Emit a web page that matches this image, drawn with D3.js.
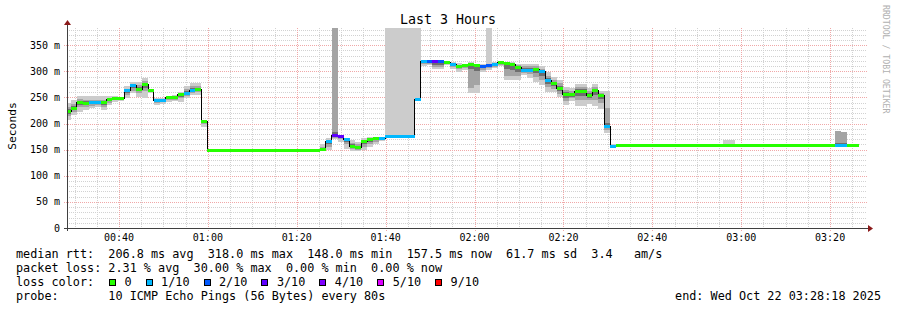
<!DOCTYPE html>
<html>
<head>
<meta charset="utf-8">
<script src="https://cdn.jsdelivr.net/npm/d3@7"></script>
<style>
body{margin:0;background:#fff}
text{font-family:"DejaVu Sans Mono",monospace;fill:#000}
</style>
</head>
<body>
<div id="chart"></div>
<script>
// median rtt per 80s step (ms)
var median = [223,229,241,239,240,240,240,246,248,248,
  263,272,265,275,264,245,245,250,250,255,
  258,264,266,204,
  148,148,148,148,148,148,148,148,148,148,148,148,148,148,148,148,148,148,148,
  150,165,177,175,170,157,154,165,169,171,171,
  175,175,175,175,175,247,
  318,318,318,318,316.5,313,310,311,314,311,
  310,311,314,316.5,315,313,307,302,302,304,
  299,283,276,267,255,255,261,262,254,263,
  254,195,157,
  157.5,157.5,157.5,157.5,157.5,157.5,157.5,157.5,157.5,157.5,
  157.5,157.5,157.5,157.5,157.5,157.5,157.5,157.5,157.5,157.5,
  157.5,157.5,157.5,157.5,157.5,157.5,157.5,157.5,157.5,157.5,
  157.5,157.5,157.5,157.5,157.5,157.5,157.5,157.5,157.5,157.5,157.5]
// lost pings out of 10
var loss = [0,0,0,0,1,1,0,0,0,0, 1,1,0,0,0,1,1,0,0,0, 1,1,0,0,
  0,0,0,0,0,0,0,0,0,0,0,0,0,0,0,0,0,0,0,
  0,1,3,3,1,0,0,0,0,0,1,
  1,1,1,1,1,1,
  1,2,3,2,0,1,0,0,0,0,
  2,2,1,0,0,0,0,1,1,0,
  1,1,0,0,0,0,0,0,0,0,
  0,1,1,
  0,0,0,0,0,0,0,0,0,0, 0,0,0,0,0,0,0,0,0,0,
  0,0,0,0,0,0,0,0,0,0, 0,0,0,0,0,0,0,1,1,0,0]
// smoke: outer min / inner min / inner max / outer max (ms)
var smokeLo = [207,216,222,226,229,231,226,236,242,244,
  248,258,251,248,258,236,238,242,243,242,
  248,255,255,194,
  148,148,148,148,148,148,148,148,148,148,148,148,148,148,148,148,148,148,148,
  147,149,170,165,152,148,148,150,155,160,166,
  173,174,174,174,174,245,
  310,313,304,304,313,304,298,303,259,259,
  298,303,306,310,283,283,283,293,288,280,
  273,260,260,250,235,243,233,233,238,233,
  228,182,156,
  157,157,157,157,157,157,157,157,157,157, 157,157,157,157,157,157,157,157,157,157,
  157,157,157,157,157,157,157,157,157,157, 157,157,157,157,157,157,157,157,157,157,157]
var smokeLo2 = [215,222,232,232,234,235,232,240,245,246,
  254,263,258,262,260,240,241,246,246,248,
  252,259,260,199,
  148,148,148,148,148,148,148,148,148,148,148,148,148,148,148,148,148,148,148,
  148,156,173,170,160,152,150,156,161,165,168,
  174,174,174,174,174,246,
  314,315,308,308,314,308,304,307,268,273,
  303,306,309,313,292,292,292,297,294,290,
  284,270,266,257,244,248,245,245,245,245,
  240,188,156,
  157,157,157,157,157,157,157,157,157,157, 157,157,157,157,157,157,157,157,157,157,
  157,157,157,157,157,157,157,157,157,157, 157,157,157,157,157,157,157,157,157,157,157]
var smokeHi2 = [232,238,247,246,246,246,246,249,250,250,
  267,276,274,281,266,247,247,251,252,258,
  266,272,272,206,
  148,148,148,148,148,148,148,148,148,148,148,148,148,148,148,148,148,148,148,
  155,169,400,177,171,163,160,169,172,172,173,
  177,176,176,176,176,249,
  319,319,319,319,318,315,313,313,315,313,
  312,314,316,318,317,315,312,311,311,310,
  305,292,284,278,264,262,270,270,262,270,
  258,230,159,
  158,158,158,158,158,158,158,158,158,158, 158,158,158,158,158,158,158,158,158,158,
  158,158,158,158,158,158,158,158,158,158, 158,158,158,158,158,158,158,186,183,158,158]
var smokeHi = [239,246,252,252,253,253,252,252,252,251,
  271,280,280,287,267,248,248,253,254,261,
  271,277,277,207,
  148,148,148,148,148,148,148,148,148,148,148,148,148,148,148,148,148,148,148,
  160,172,400,178,172,168,165,172,175,173,175,
  400,400,400,400,400,400,
  320,320,320,320,319,317,316,315,317,315,
  314,400,317,319,318,317,315,314,315,314,
  311,299,289,284,270,268,275,275,268,275,
  262,262,160,
  158,158,158,158,158,158,158,158,158,158, 158,158,158,158,158,158,158,158,168,168,
  158,158,158,158,158,158,158,158,158,158, 158,158,160,160,158,158,158,186,183,158,158]

var lossLabels = ["0","1/10","2/10","3/10","4/10","5/10","9/10"]
var lossSteps = [0,1,2,3,4,5,9]
var lossColors = ["#26ff00","#00b8ff","#0059ff","#5e00ff","#7e00ff","#dd00ff","#ff0000"]
var yTicks = [0,50,100,150,200,250,300,350]
var legendLines = [
  "median rtt:  206.8 ms avg  318.0 ms max  148.0 ms min  157.5 ms now  61.7 ms sd  3.4   am/s",
  "packet loss: 2.31 % avg  30.00 % max  0.00 % min  0.00 % now",
  "loss color:",
  "probe:       10 ICMP Echo Pings (56 Bytes) every 80s"]

var endTime = new Date(2025, 9, 22, 3, 28, 18)
var startTime = new Date(endTime.getTime() - 3*3600*1000)
var firstStep = new Date(2025, 9, 22, 0, 27, 52)
var stepMs = 80*1000

var plot = {left: 67, right: 867, top: 28, bottom: 228}

var x = d3.scaleTime().domain([startTime, endTime]).range([plot.left, plot.right])
var y = d3.scaleLinear().domain([0, 383]).range([plot.bottom, plot.top])

function colorFor(l){
  var idx = 0
  for(var i in lossSteps){ if(l >= lossSteps[i]) idx = i }
  return lossColors[idx]
}

var svg = d3.select("#chart").append("svg")
    .attr("width", 897)
    .attr("height", 310)

svg.append("defs").append("clipPath").attr("id","clip")
  .append("rect").attr("x",plot.left).attr("y",plot.top)
  .attr("width",plot.right-plot.left).attr("height",plot.bottom-plot.top)

// grid
var minorY = d3.range(10, 383, 10).filter(function(v){ return v % 50 != 0 })
var majorY = yTicks.filter(function(v){ return v > 0 })
var minorX = x.ticks(d3.timeMinute.every(5)).filter(function(d){ return d.getMinutes() % 20 != 0 })
var majorX = x.ticks(d3.timeMinute.every(20))

var grid = svg.append("g").attr("shape-rendering","crispEdges")
grid.selectAll(".hmin").data(minorY).enter().append("line")
  .attr("x1",plot.left).attr("x2",plot.right)
  .attr("y1",function(d){ return Math.round(y(d))+0.5 }).attr("y2",function(d){ return Math.round(y(d))+0.5 })
  .style("stroke","#d2d2d2").style("stroke-dasharray","1,1")
grid.selectAll(".vmin").data(minorX).enter().append("line")
  .attr("y1",plot.top).attr("y2",plot.bottom+2)
  .attr("x1",function(d){ return Math.round(x(d))+0.5 }).attr("x2",function(d){ return Math.round(x(d))+0.5 })
  .style("stroke","#d2d2d2").style("stroke-dasharray","1,1")
grid.selectAll(".hmaj").data(majorY).enter().append("line")
  .attr("x1",plot.left-3).attr("x2",plot.right)
  .attr("y1",function(d){ return Math.round(y(d))+0.5 }).attr("y2",function(d){ return Math.round(y(d))+0.5 })
  .style("stroke","#f0a8a8").style("stroke-dasharray","1,1")
grid.selectAll(".vmaj").data(majorX).enter().append("line")
  .attr("y1",plot.top).attr("y2",plot.bottom+3)
  .attr("x1",function(d){ return Math.round(x(d))+0.5 }).attr("x2",function(d){ return Math.round(x(d))+0.5 })
  .style("stroke","#f0a8a8").style("stroke-dasharray","1,1")

// steps
var steps = median.map(function(m, i){
  return {t0: new Date(firstStep.getTime()+i*stepMs), t1: new Date(firstStep.getTime()+(i+1)*stepMs),
    med: m, loss: loss[i], lo: smokeLo[i], lo2: smokeLo2[i], hi2: smokeHi2[i], hi: smokeHi[i]}
})

var g = svg.append("g").attr("clip-path","url(#clip)").attr("shape-rendering","crispEdges")

function smokeLayer(cls, top, bottom, fill){
  g.selectAll("."+cls).data(steps).enter().append("rect")
    .attr("x",function(d){ return x(d.t0) })
    .attr("width",function(d){ return x(d.t1)-x(d.t0) })
    .attr("y",function(d){ return y(top(d)) })
    .attr("height",function(d){ return Math.max(0, y(bottom(d))-y(top(d))) })
    .style("fill",fill)
}
smokeLayer("s1", function(d){ return d.hi }, function(d){ return d.lo }, "#cccccc")
smokeLayer("s2", function(d){ return d.hi2 }, function(d){ return d.lo2 }, "#a4a4a4")
// darkest band close to the median, inside the inner smoke
smokeLayer("s3", function(d){ return d.med + Math.min((d.hi2-d.med)/2, 6) },
  function(d){ return d.med - Math.min((d.med-d.lo2)/2, 10) }, "#6e6e6e")

var pts = steps.map(function(d){ return [x(d.t0), y(d.med)] })
pts.push([x(steps[steps.length-1].t1), y(steps[steps.length-1].med)])
g.append("path")
  .attr("d", d3.line().curve(d3.curveStepAfter)(pts))
  .style("fill","none").style("stroke","#000").style("stroke-width",1)

g.selectAll(".med").data(steps).enter().append("rect")
  .attr("x",function(d){ return x(d.t0) })
  .attr("width",function(d){ return x(d.t1)-x(d.t0) })
  .attr("y",function(d){ return y(d.med)-1.5 })
  .attr("height",3)
  .style("fill",function(d){ return colorFor(d.loss) })

// axes
var ax = svg.append("g").attr("shape-rendering","crispEdges")
ax.append("line").attr("x1",plot.left+0.5).attr("x2",plot.left+0.5).attr("y1",plot.bottom+3).attr("y2",plot.top-6)
  .style("stroke","#404040")
ax.append("line").attr("x1",plot.left-3).attr("x2",plot.right+4).attr("y1",plot.bottom+0.5).attr("y2",plot.bottom+0.5)
  .style("stroke","#404040")
svg.append("path").attr("d","M"+(plot.left-3)+","+(plot.top-3)+"L"+(plot.left+4)+","+(plot.top-3)+"L"+(plot.left+0.5)+","+(plot.top-8)+"Z")
  .style("fill","#8b1a1a")
svg.append("path").attr("d","M"+(plot.right+1)+","+(plot.bottom-3)+"L"+(plot.right+1)+","+(plot.bottom+4)+"L"+(plot.right+6)+","+(plot.bottom+0.5)+"Z")
  .style("fill","#8b1a1a")

svg.selectAll(".ylab").data(yTicks).enter().append("text")
  .attr("x",60).attr("y",function(d){ return y(d)+3.5 })
  .attr("text-anchor","end").style("font-size","10px")
  .text(function(d){ return d == 0 ? "0" : d + " m" })
svg.selectAll(".xlab").data(majorX).enter().append("text")
  .attr("x",function(d){ return x(d) }).attr("y",241)
  .attr("text-anchor","middle").style("font-size","10px")
  .text(d3.timeFormat("%H:%M"))

svg.append("text").text("Last 3 Hours").attr("x",448).attr("y",24)
  .attr("text-anchor","middle").style("font-size","13.3px")
svg.append("text").text("Seconds").attr("transform","translate(16,126) rotate(-90)")
  .attr("text-anchor","middle").style("font-size","11.3px")
svg.append("text").text("RRDTOOL / TOBI OETIKER").attr("transform","translate(883,5) rotate(90)")
  .style("font-size","8.2px").style("fill","#b0b0b0")

// legend
var lineY = [258,272,286,300]
svg.selectAll(".leg").data(legendLines).enter().append("text")
  .attr("x",16).attr("y",function(d,i){ return lineY[i] })
  .style("font-size","11.8px").attr("xml:space","preserve").style("white-space","pre")
  .text(function(d){ return d })
var sx = 109
lossLabels.forEach(function(lab, i){
  svg.append("rect").attr("x",sx+0.5).attr("y",279.5).attr("width",6).attr("height",6)
    .style("fill",lossColors[i]).style("stroke","#000").attr("shape-rendering","crispEdges")
  svg.append("text").attr("x",sx+15.5).attr("y",286).style("font-size","11.8px").text(lab)
  sx = sx + 15.5 + lab.length*7.1 + 14
})
svg.append("text").text("end: Wed Oct 22 03:28:18 2025").attr("x",881).attr("y",300)
  .attr("text-anchor","end").style("font-size","11.8px")
</script>
</body>
</html>
